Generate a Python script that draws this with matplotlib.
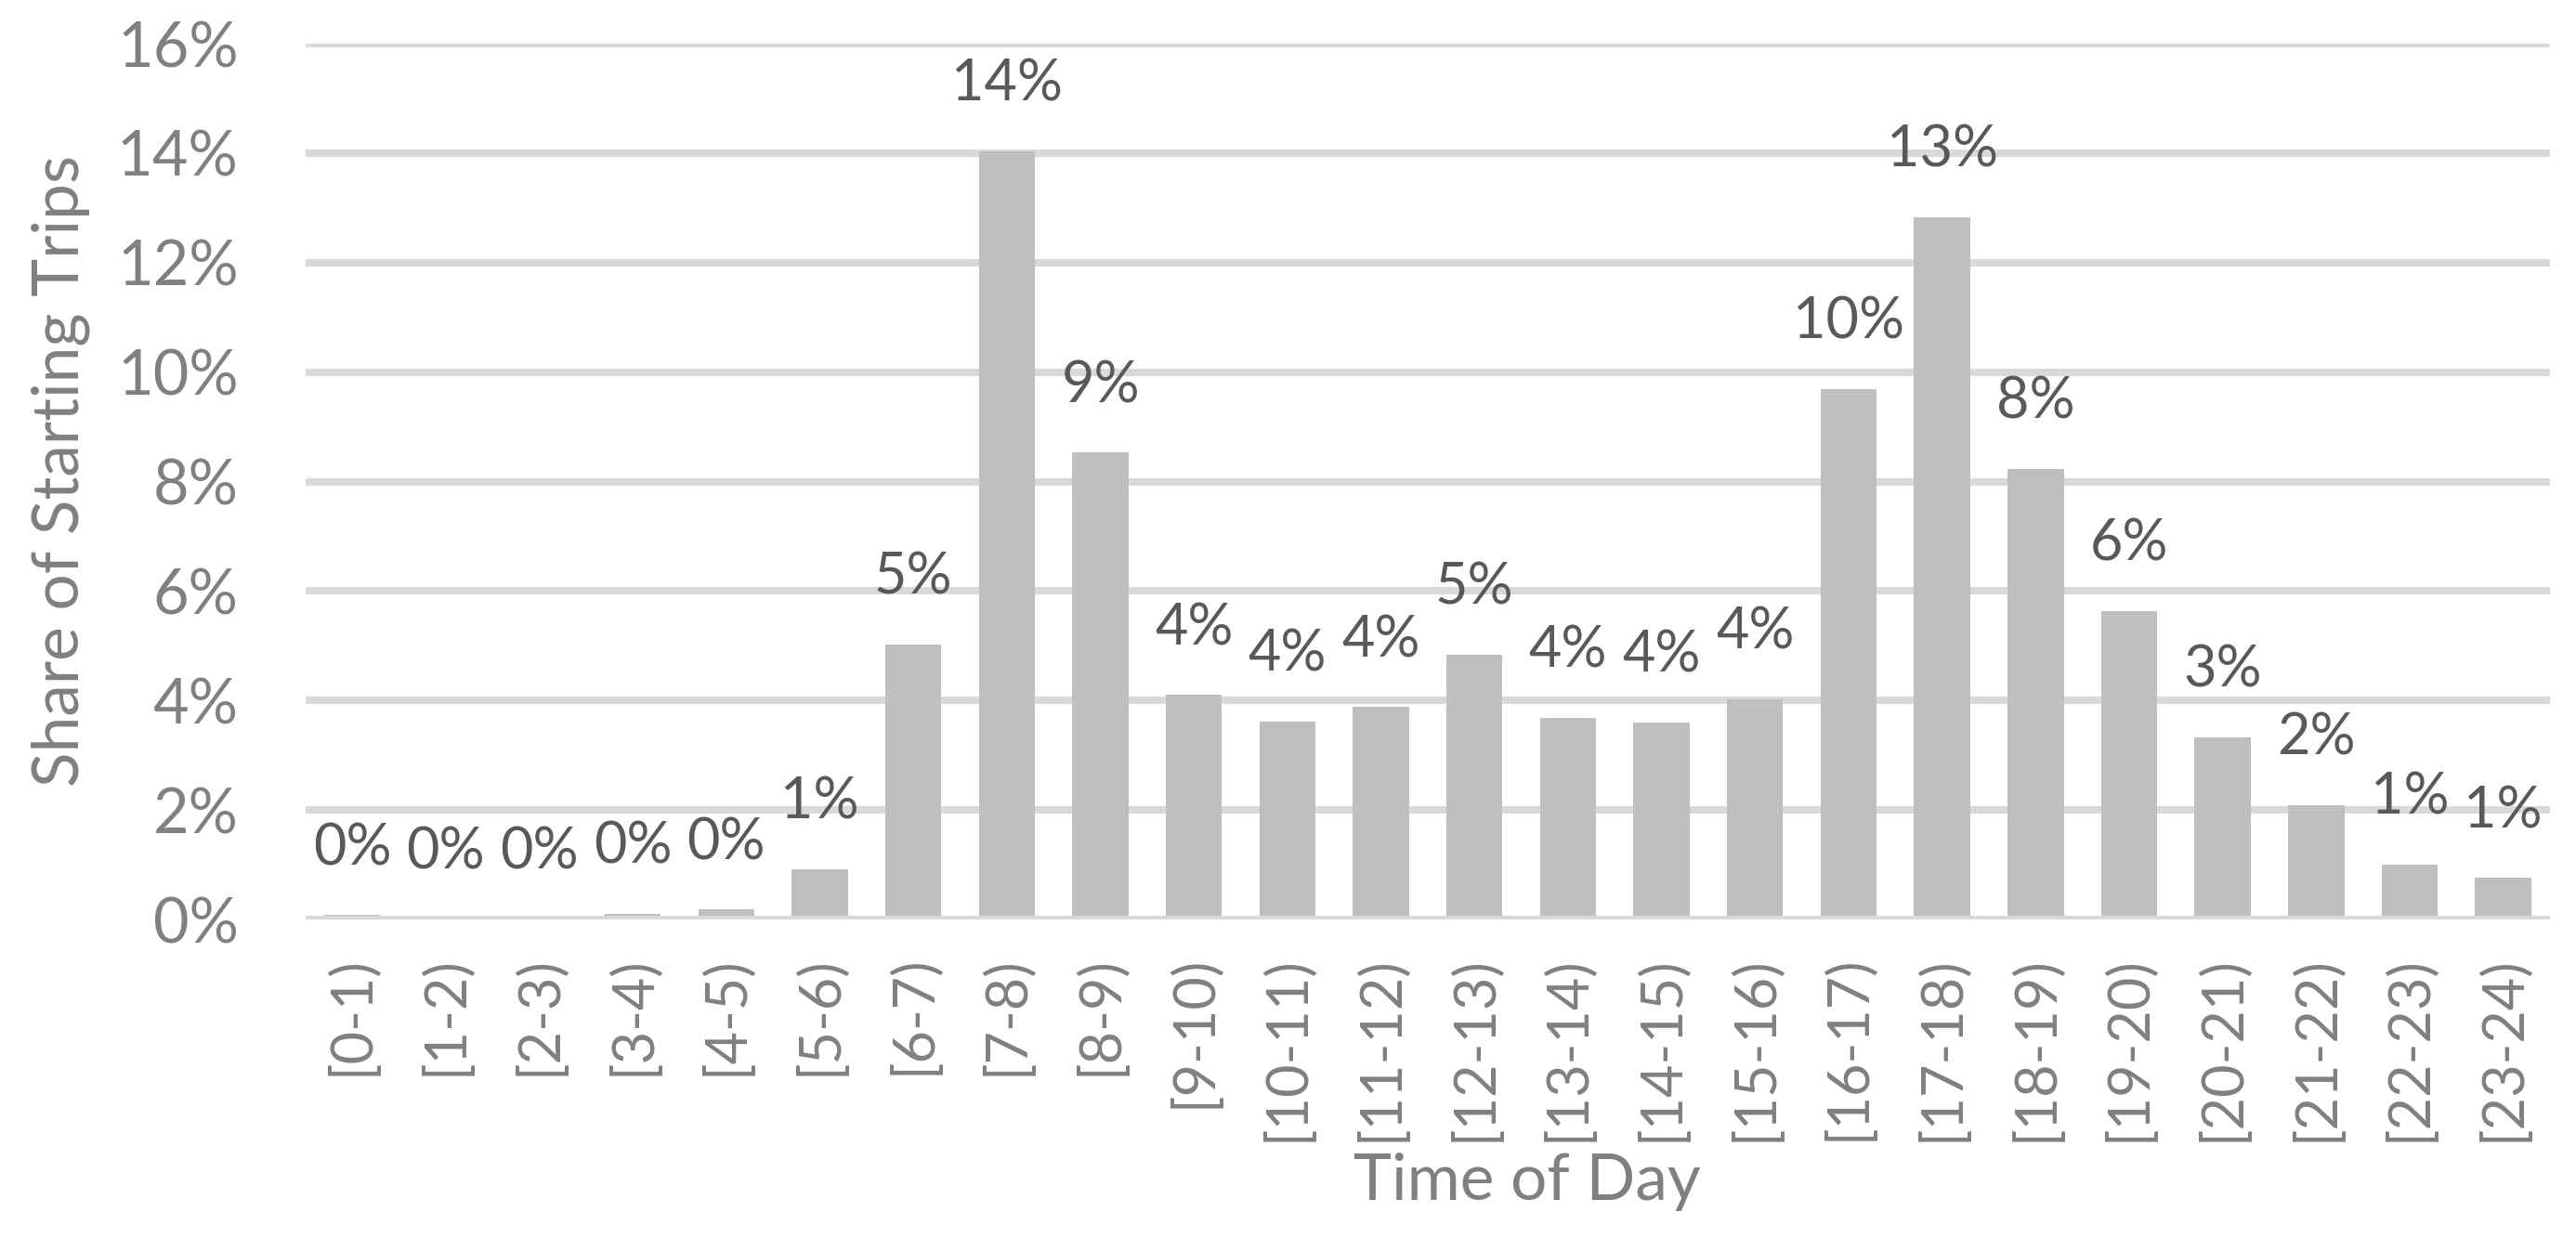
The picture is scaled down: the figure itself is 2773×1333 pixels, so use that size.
import matplotlib
matplotlib.use("Agg")
from matplotlib import pyplot as plt
from matplotlib.ticker import FuncFormatter

# hour slots and share of trips starting in each (fraction)
hours = ["[0-1)", "[1-2)", "[2-3)", "[3-4)", "[4-5)", "[5-6)", "[6-7)", "[7-8)",
         "[8-9)", "[9-10)", "[10-11)", "[11-12)", "[12-13)", "[13-14)", "[14-15)",
         "[15-16)", "[16-17)", "[17-18)", "[18-19)", "[19-20)", "[20-21)", "[21-22)",
         "[22-23)", "[23-24)"]
share = [0.0008, 0.0001, 0.0001, 0.0010, 0.0018, 0.0092, 0.0503, 0.1403,
         0.0853, 0.0410, 0.0362, 0.0388, 0.0484, 0.0369, 0.0360,
         0.0402, 0.0969, 0.1283, 0.0823, 0.0564, 0.0333, 0.0209,
         0.0100, 0.0076]
yticks = [0, 0.02, 0.04, 0.06, 0.08, 0.10, 0.12, 0.14, 0.16]

plt.rcParams['font.family'] = ['Lato', 'DejaVu Sans']

fig = plt.figure(figsize=(27.73, 13.33), dpi=100)
ax = fig.add_axes([0.1186, 0.2573, 0.9899 - 0.1186, 0.9647 - 0.2573])

x = list(range(len(hours)))
ax.bar(x, share, width=0.6, color='#BFBFBF', zorder=2)

# gridlines behind bars, baseline on top
for t in yticks[1:]:
    ax.axhline(t, color='#D9D9D9', linewidth=5.8, zorder=1)
ax.axhline(0, color='#D9D9D9', linewidth=5.8, zorder=3)

# value labels above bars
for xi, v in zip(x, share):
    ax.annotate(f"{v * 100:.0f}%", (xi, v), xytext=(0, 39), textcoords='offset points',
                ha='center', va='baseline', fontsize=44, color='#595959')

ax.set_xlim(-0.5, len(hours) - 0.5)
ax.set_ylim(0, 0.16)
ax.set_yticks(yticks)
ax.yaxis.set_major_formatter(FuncFormatter(lambda v, p: f"{v * 100:.0f}%"))
ax.set_xticks(x)
ax.set_xticklabels(hours, rotation=90)
ax.tick_params(axis='y', length=0, pad=52, labelsize=48, labelcolor='#808080')
ax.tick_params(axis='x', length=0, pad=28, labelsize=44, labelcolor='#808080')
for s in ax.spines.values():
    s.set_visible(False)

fig.text(0.5929, 0.0308, "Time of Day", ha='center', va='baseline',
         fontsize=50, color='#808080')
fig.text(0.0234, 0.620, "Share of Starting Trips", ha='center', va='center',
         rotation=90, fontsize=50, color='#808080')

plt.savefig("out.png", dpi=100)
